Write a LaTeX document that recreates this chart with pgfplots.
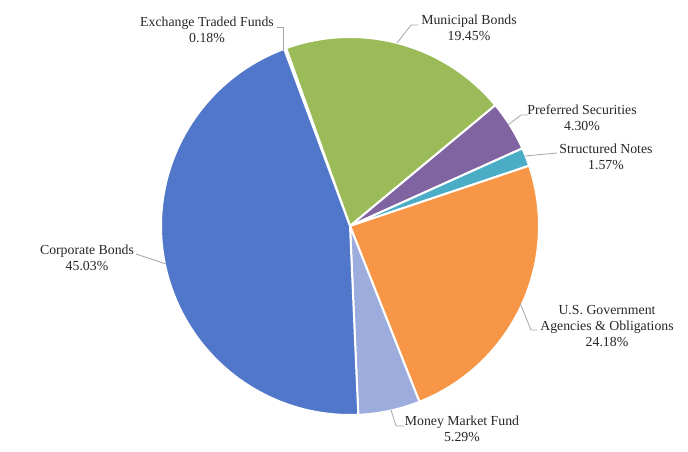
\documentclass[border=0pt]{standalone}
\usepackage{pgfplots}
\pgfplotsset{compat=1.18}
\usepackage{pgfplotstable}
\usepackage{fontspec}
\setmainfont{Liberation Serif}

\definecolor{slice0}{HTML}{C0504D}
\definecolor{slice1}{HTML}{9BBB59}
\definecolor{slice2}{HTML}{8064A2}
\definecolor{slice3}{HTML}{4BACC6}
\definecolor{slice4}{HTML}{F79646}
\definecolor{slice5}{HTML}{9CACDC}
\definecolor{slice6}{HTML}{5077C9}
\definecolor{leader}{HTML}{A6A6A6}
\definecolor{labeltext}{HTML}{262626}

% share of each category, in percent (clockwise order)
\pgfplotstableread{
value
0.18
19.45
4.30
1.57
24.18
5.29
45.03
}\piedata

\begin{document}
\begin{tikzpicture}
\begin{axis}[
  at={(0,0)}, anchor=south west,
  scale only axis, width=688pt, height=452pt,
  xmin=0, xmax=688, ymin=0, ymax=452,
  y dir=reverse, hide axis, clip=false,
]
\pgfmathsetmacro\cur{110.4}
\pgfplotsforeachungrouped \i in {0,...,6}{%
  \pgfplotstablegetelem{\i}{value}\of\piedata
  \pgfmathsetmacro\a{\cur}%
  \pgfmathsetmacro\b{\cur-3.6*\pgfplotsretval}%
  \edef\temp{\noexpand\addplot[fill=slice\i, draw=white, line width=2pt, line join=round, domain=\b:\a, samples=90]
     ({350+189*cos(x)},{226-189*sin(x)}) -- (350,226) -- cycle;}%
  \temp
  \global\let\cur\b
}

% leader lines
\addplot[leader, line width=0.8pt] coordinates {(277,27) (283,27) (283,50)};
\addplot[leader, line width=0.8pt] coordinates {(418,25) (411,25) (397,43)};
\addplot[leader, line width=0.8pt] coordinates {(528,115) (521,115) (508,125)};
\addplot[leader, line width=0.8pt] coordinates {(557,153) (525,156)};
\addplot[leader, line width=0.8pt] coordinates {(537,330) (531,330) (520,303)};
\addplot[leader, line width=0.8pt] coordinates {(404,426) (396,426) (391,410)};
\addplot[leader, line width=0.8pt] coordinates {(136,254) (166,264)};

\tikzset{lbl/.style={align=center, text=labeltext, inner sep=0pt,
   font=\fontsize{13.8}{16}\selectfont}}
\node[lbl] at (207,30) {Exchange Traded Funds\\0.18\%};
\node[lbl] at (469,28) {Municipal Bonds\\19.45\%};
\node[lbl] at (582,118) {Preferred Securities\\4.30\%};
\node[lbl] at (606,157) {Structured Notes\\1.57\%};
\node[lbl] at (607,326) {U.S. Government\\Agencies \& Obligations\\24.18\%};
\node[lbl] at (462,429) {Money Market Fund\\5.29\%};
\node[lbl] at (87,258) {Corporate Bonds\\45.03\%};
\end{axis}
\pgfresetboundingbox
\path (0,0) rectangle (688pt,452pt);
\end{tikzpicture}
\end{document}
